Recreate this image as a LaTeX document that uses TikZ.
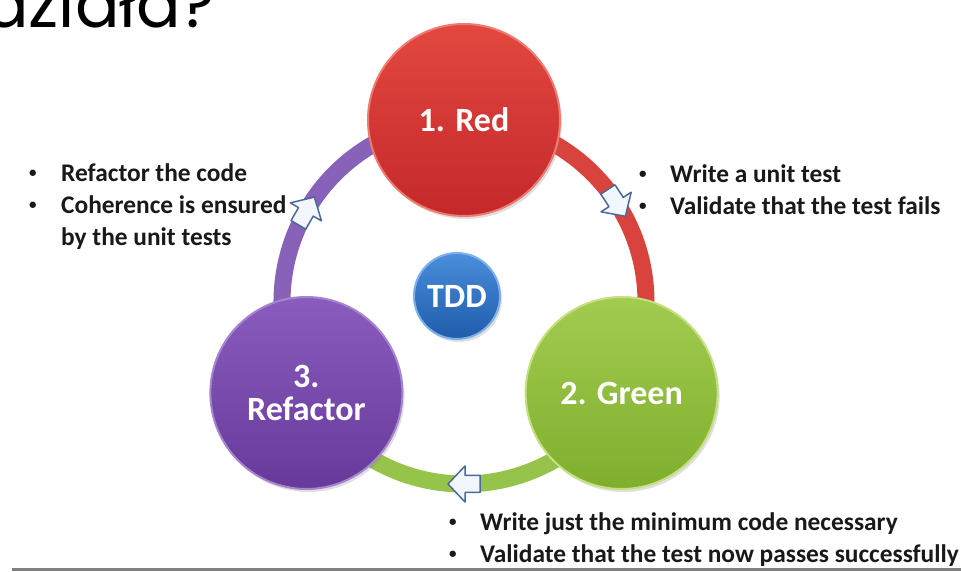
\documentclass[tikz,border=0pt]{standalone}
\usepackage{fontspec}
\setmainfont{Carlito}
\newfontfamily\titlefont{Poppins}
\usetikzlibrary{backgrounds,shadows}

\definecolor{redtop}{HTML}{E34840}
\definecolor{redbot}{HTML}{C4282A}
\definecolor{redrim}{HTML}{EE7A70}
\definecolor{greentop}{HTML}{A2CC50}
\definecolor{greenbot}{HTML}{7FAE2E}
\definecolor{greenrim}{HTML}{C5E080}
\definecolor{purpletop}{HTML}{8A5CBE}
\definecolor{purplebot}{HTML}{67399A}
\definecolor{purplerim}{HTML}{A585D0}
\definecolor{bluetop}{HTML}{4A8EDC}
\definecolor{bluebot}{HTML}{1F5CAA}
\definecolor{bluerim}{HTML}{7FB0EA}
\definecolor{redring}{HTML}{D9433D}
\definecolor{greenring}{HTML}{96C44A}
\definecolor{purplering}{HTML}{8762B8}
\definecolor{arrowblue}{HTML}{4B6A9B}
\definecolor{arrowfill}{HTML}{F2F7FD}

\newcommand\smallbullet{\raisebox{4pt}{\fontsize{15}{15}\selectfont\textbullet}}

\tikzset{
	stage/.style={circle,minimum size=192pt,inner sep=0,line width=2pt,text=white,align=center,
		font=\fontsize{34}{34}\selectfont\bfseries,
		drop shadow={shadow xshift=2pt,shadow yshift=-3pt,opacity=.25}},
	ring/.style={line width=17pt},
	bullets/.style={anchor=base west,inner sep=0,text=black!90,font=\fontsize{25.4}{32}\selectfont\bfseries},
	cyclearrow/.pic={\draw[draw=arrowblue,fill=arrowfill,line width=1.5pt,line join=round]
		(-16,-8.5)--(-1,-8.5)--(-1,-18)--(16,0)--(-1,18)--(-1,8.5)--(-16,8.5)--cycle;}
}

\begin{document}
\begin{tikzpicture}[x=1pt,y=1pt]
\useasboundingbox (0,0) rectangle (961,572);
\clip (0,0) rectangle (961,572);
\node[anchor=base west,inner sep=0,font=\titlefont\fontsize{66}{66}\selectfont] (title) at (-16,544) {działa?};
\begin{scope}[shift={(464,270)}]
\node[stage,top color=redtop,bottom color=redbot,draw=redrim] (red) at (90:182) {1. Red};
\node[stage,top color=greentop,bottom color=greenbot,draw=greenrim] (green) at (-30:182) {2. Green};
\node[stage,top color=purpletop,bottom color=purplebot,draw=purplerim] (refactor) at (210:182) {3.\\[-1pt]Refactor};
\begin{scope}[on background layer]
\draw[ring,draw=redring] (red.center) arc[start angle=90,end angle=-30,radius=182];
\draw[ring,draw=greenring] (green.center) arc[start angle=-30,end angle=-150,radius=182];
\draw[ring,draw=purplering] (refactor.center) arc[start angle=210,end angle=90,radius=182];
\end{scope}
\pic[rotate=-57] at (33:182) {cyclearrow};
\pic[rotate=180] at (-90:182) {cyclearrow};
\pic[rotate=60] at (150:182) {cyclearrow};
\end{scope}
\node[stage,minimum size=86pt,top color=bluetop,bottom color=bluebot,draw=bluerim] (tdd) at (457,276) {TDD};
\node[bullets] (refactortext) at (29,390) {\begin{tabular}[t]{@{}p{32pt}@{}l@{}}
	\smallbullet & Refactor the code\\
	\smallbullet & Coherence is ensured\\
	& by the unit tests\end{tabular}};
\node[bullets] (redtext) at (639,389) {\begin{tabular}[t]{@{}p{31pt}@{}l@{}}
	\smallbullet & Write a unit test\\
	\smallbullet & Validate that the test fails\end{tabular}};
\node[bullets] (greentext) at (449,41) {\begin{tabular}[t]{@{}p{31pt}@{}l@{}}
	\smallbullet & Write just the minimum code necessary\\
	\smallbullet & Validate that the test now passes successfully\end{tabular}};
\draw[line width=3pt,draw=gray] (12,2)--(961,2);
\end{tikzpicture}
\end{document}
